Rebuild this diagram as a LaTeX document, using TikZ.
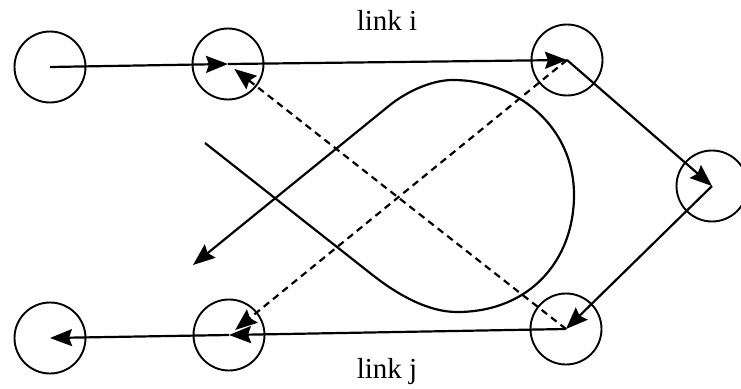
\documentclass[tikz,border=0pt]{standalone}
\usepackage{fontspec}
\setmainfont{Liberation Serif}
\usetikzlibrary{arrows.meta}
\tikzset{junc/.style={draw, circle, line width=1.9pt, minimum size=71pt, inner sep=0pt},
  linkarr/.style={line width=2.2pt, -{Stealth[length=22pt,width=17pt,inset=3pt]}},
  turnarr/.style={linkarr, dash pattern=on 7pt off 5pt}}

\begin{document}
\begin{tikzpicture}[x=1pt, y=-1pt]
  \useasboundingbox (0,0) rectangle (741,388);
  % intersections along link i (top) and link j (bottom)
  \node[junc] (a) at (50,67) {};
  \node[junc] (b) at (228,64) {};
  \node[junc] (c) at (567,60) {};
  \node[junc] (d) at (712,186) {};
  \node[junc] (e) at (566,329) {};
  \node[junc] (f) at (229,335) {};
  \node[junc] (g) at (50,338) {};
  \node[font=\fontsize{29}{32}\selectfont] (li) at (387,20) {link i};
  \node[font=\fontsize{29}{32}\selectfont] (lj) at (387,372) {link j};
  \draw[linkarr] (a.center) -- (b.center);
  \draw[linkarr] (b.center) -- (c.center);
  \draw[linkarr] (c.center) -- (d.center);
  \draw[linkarr] (d.center) -- (e.center);
  \draw[linkarr] (e.center) -- (f.center);
  \draw[linkarr] (f.center) -- (g.center);
  % U-turn movements
  \draw[turnarr, shorten >=8pt] (e.center) -- (b.center);
  \draw[turnarr, shorten >=8pt] (c.center) -- (f.center);
  % loop ramp
  \coordinate (ls) at (205,143);
  \coordinate (le) at (193,265);
  \draw[linkarr] (ls) -- (370,273) .. controls (400,297) and (430,312) .. (457,312)
    .. controls (530,312) and (574,260) .. (574,195)
    .. controls (574,125) and (515,80) .. (453,80)
    .. controls (430,80) and (405,93) .. (390,105) -- (le);
\end{tikzpicture}
\end{document}
